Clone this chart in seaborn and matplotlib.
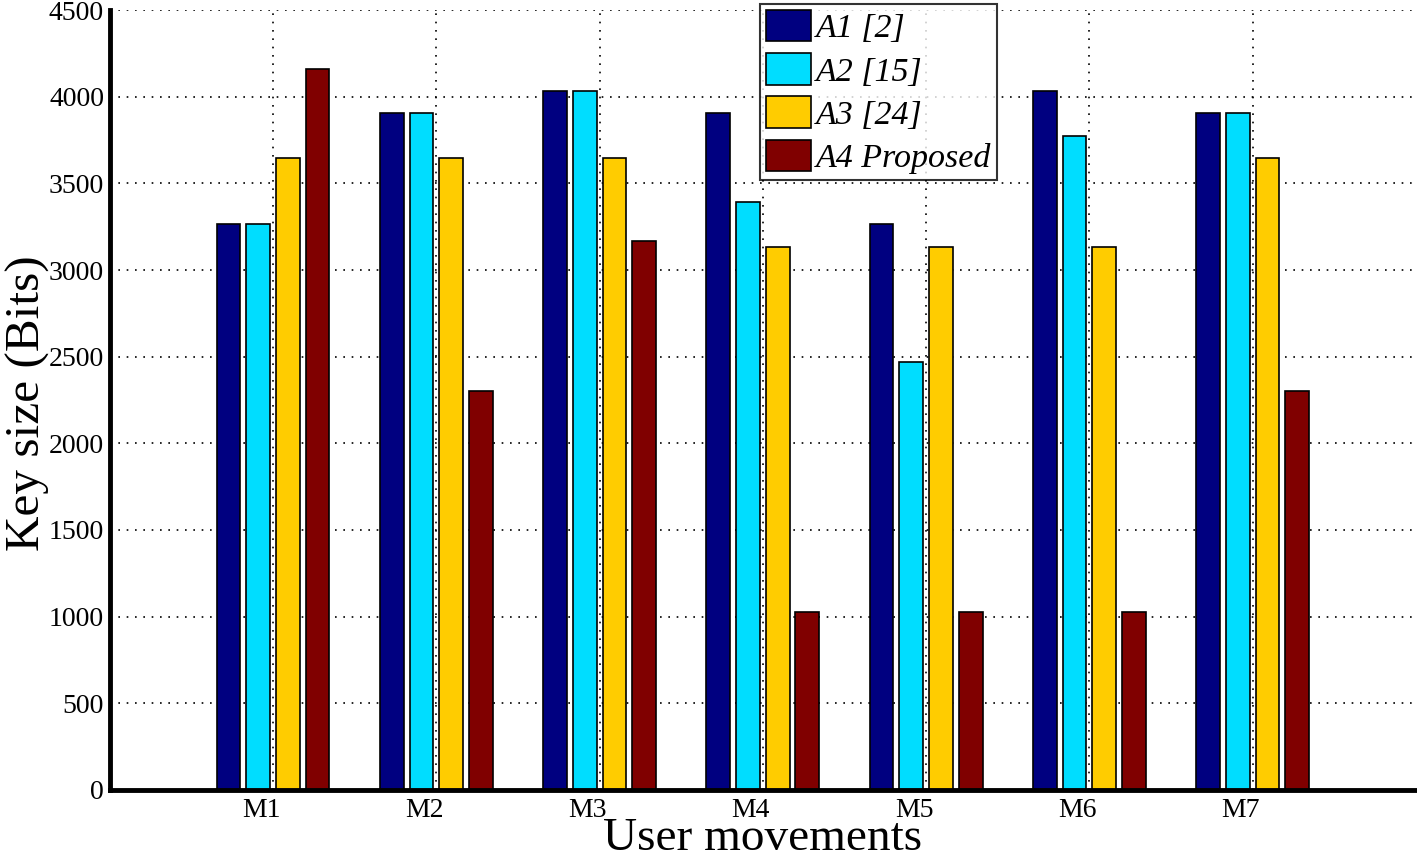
import matplotlib
matplotlib.use("Agg")
import matplotlib.pyplot as plt
import matplotlib.transforms as mtransforms
import seaborn as sns
import pandas as pd
from matplotlib.patches import Patch

# Data
movements = ['M1', 'M2', 'M3', 'M4', 'M5', 'M6', 'M7']
series = ['A1 [2]', 'A2 [15]', 'A3 [24]', 'A4 Proposed']
a1 = [3264, 3904, 4032, 3904, 3264, 4032, 3904]
a2 = [3264, 3904, 4032, 3392, 2470, 3776, 3904]
a3 = [3648, 3648, 3648, 3130, 3130, 3130, 3648]
a4 = [4160, 2304, 3168, 1024, 1024, 1024, 2304]
colors = ['#000080', '#00DDFF', '#FFCC00', '#800000']

rows = []
for name, vals in zip(series, [a1, a2, a3, a4]):
    for m, v in zip(movements, vals):
        rows.append({'Movement': m, 'Series': name, 'Key size': v})
data = pd.DataFrame(rows)

sns.set_style('white')
plt.rcParams['font.family'] = ['Liberation Serif', 'DejaVu Serif']
plt.rcParams['text.color'] = 'black'
plt.rcParams['axes.labelcolor'] = 'black'
plt.rcParams['xtick.color'] = 'black'
plt.rcParams['ytick.color'] = 'black'

fig = plt.figure(figsize=(14.17, 8.57), dpi=100)
ax = fig.add_axes([0.0774, 0.0782, 0.9219, 0.9101])

sns.barplot(data=data, x='Movement', y='Key size', hue='Series',
            order=movements, hue_order=series, palette=colors,
            width=0.727, gap=0.2, edgecolor='black', linewidth=1.2,
            saturation=1, legend=False, ax=ax)

ax.set_xlim(-1, 7)
ax.set_ylim(0, 4500)
ax.set_yticks(range(0, 4501, 500))

# MATLAB-like look: dotted grid, left/bottom axes only, inward ticks
ax.set_axisbelow(True)
ax.grid(True, color='black', linestyle=(0, (1, 4)), linewidth=1.2)
for s in ['top', 'right']:
    ax.spines[s].set_visible(False)
for s in ['left', 'bottom']:
    ax.spines[s].set_linewidth(3.5)
    ax.spines[s].set_color('black')
ax.tick_params(axis='both', direction='in', labelsize=20, length=9, width=3,
               colors='black')
ax.tick_params(axis='y', pad=4)
ax.tick_params(axis='x', pad=6)

# x tick labels sit slightly left of their ticks in the original
shift = mtransforms.ScaledTranslation(-12 / 100, 0, fig.dpi_scale_trans)
for lbl in ax.get_xticklabels():
    lbl.set_transform(lbl.get_transform() + shift)

ax.set_xlabel('User movements', fontsize=34, color='black')
ax.xaxis.label.set_va('baseline')
ax.xaxis.set_label_coords(0.5, -0.0775)
ax.set_ylabel('Key size (Bits)', fontsize=35.5, color='black')
ax.yaxis.set_label_coords(-0.0455, 0.496)

handles = [Patch(facecolor=c, edgecolor='black', linewidth=1.2) for c in colors]
leg = ax.legend(handles, series, loc='upper left', bbox_to_anchor=(0.498, 1.008),
                prop={'family': 'Liberation Serif', 'style': 'italic', 'size': 24.5},
                frameon=True, fancybox=False, edgecolor='black',
                handlelength=1.3, handleheight=1.05, handletextpad=0.15,
                labelspacing=0.26, borderpad=0.18, borderaxespad=0)
leg.get_frame().set_linewidth(1.5)

fig.savefig('out.png', dpi=100)
